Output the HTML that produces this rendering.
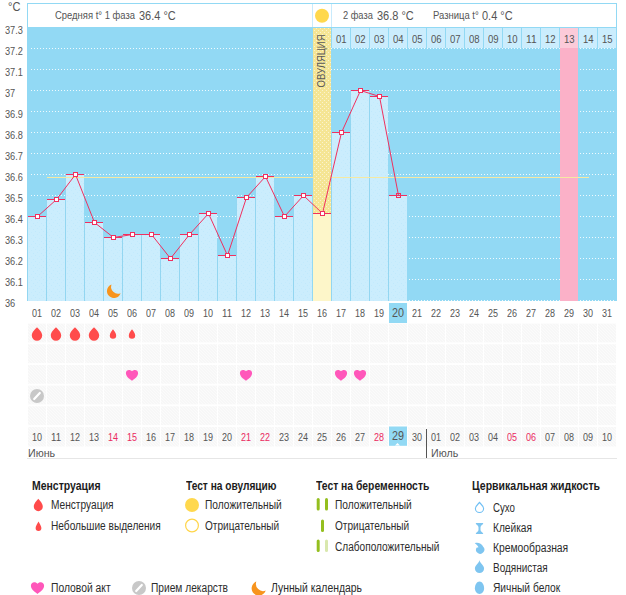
<!DOCTYPE html>
<html><head><meta charset="utf-8"><title>chart</title>
<style>
html,body{margin:0;padding:0;background:#fff;}
body{width:626px;height:595px;position:relative;overflow:hidden;font-family:"Liberation Sans",sans-serif;}
.g{position:absolute;left:0;top:0;}
.t{position:absolute;white-space:nowrap;transform-origin:0 50%;font-family:"Liberation Sans",sans-serif;}
</style></head><body>
<svg class="g" width="626" height="595" viewBox="0 0 626 595">
<defs>
<pattern id="dots" width="4" height="4" patternUnits="userSpaceOnUse"><rect x="0" y="0" width="1" height="1" fill="#fff" fill-opacity=".55"/><rect x="2" y="2" width="1" height="1" fill="#fff" fill-opacity=".55"/></pattern>
<pattern id="cell" width="3" height="3" patternUnits="userSpaceOnUse"><rect width="3" height="3" fill="#f7f7f7"/><rect x="0" y="0" width="1" height="1" fill="#fbfbfb"/><rect x="1" y="1" width="1" height="1" fill="#fbfbfb"/><rect x="2" y="2" width="1" height="1" fill="#fbfbfb"/></pattern>
<pattern id="bdots" width="8" height="6" patternUnits="userSpaceOnUse"><rect x="1" y="1" width="1" height="1" fill="#b4e4fa" fill-opacity=".45"/><rect x="5" y="0" width="1" height="1" fill="#b4e4fa" fill-opacity=".35"/><rect x="3" y="3" width="1" height="1" fill="#b4e4fa" fill-opacity=".45"/><rect x="7" y="4" width="1" height="1" fill="#b4e4fa" fill-opacity=".35"/></pattern>
</defs>
<rect x="27" y="27" width="590" height="274" fill="#92d9f4"/>
<line x1="31" y1="48.5" x2="616" y2="48.5" stroke="#fff" stroke-width="1" stroke-dasharray="1 2" stroke-opacity=".85"/>
<line x1="31" y1="69.5" x2="616" y2="69.5" stroke="#fff" stroke-width="1" stroke-dasharray="1 2" stroke-opacity=".85"/>
<line x1="31" y1="90.5" x2="616" y2="90.5" stroke="#fff" stroke-width="1" stroke-dasharray="1 2" stroke-opacity=".85"/>
<line x1="31" y1="111.5" x2="616" y2="111.5" stroke="#fff" stroke-width="1" stroke-dasharray="1 2" stroke-opacity=".85"/>
<line x1="31" y1="132.5" x2="616" y2="132.5" stroke="#fff" stroke-width="1" stroke-dasharray="1 2" stroke-opacity=".85"/>
<line x1="31" y1="153.5" x2="616" y2="153.5" stroke="#fff" stroke-width="1" stroke-dasharray="1 2" stroke-opacity=".85"/>
<line x1="31" y1="174.5" x2="616" y2="174.5" stroke="#fff" stroke-width="1" stroke-dasharray="1 2" stroke-opacity=".85"/>
<line x1="31" y1="195.5" x2="616" y2="195.5" stroke="#fff" stroke-width="1" stroke-dasharray="1 2" stroke-opacity=".85"/>
<line x1="31" y1="216.5" x2="616" y2="216.5" stroke="#fff" stroke-width="1" stroke-dasharray="1 2" stroke-opacity=".85"/>
<line x1="31" y1="237.5" x2="616" y2="237.5" stroke="#fff" stroke-width="1" stroke-dasharray="1 2" stroke-opacity=".85"/>
<line x1="31" y1="258.5" x2="616" y2="258.5" stroke="#fff" stroke-width="1" stroke-dasharray="1 2" stroke-opacity=".85"/>
<line x1="31" y1="279.5" x2="616" y2="279.5" stroke="#fff" stroke-width="1" stroke-dasharray="1 2" stroke-opacity=".85"/>
<line x1="31" y1="300.5" x2="616" y2="300.5" stroke="#fff" stroke-width="1" stroke-dasharray="1 2" stroke-opacity=".85"/>
<rect x="560" y="27" width="18" height="274" fill="#fbb1c8"/>
<rect x="27" y="216" width="1" height="85" fill="#93d6f1"/>
<rect x="28" y="216" width="18" height="85" fill="#cbedfd"/>
<rect x="28" y="216" width="18" height="85" fill="url(#bdots)"/>
<rect x="46" y="199" width="1" height="102" fill="#93d6f1"/>
<rect x="47" y="199" width="18" height="102" fill="#cbedfd"/>
<rect x="47" y="199" width="18" height="102" fill="url(#bdots)"/>
<rect x="65" y="174" width="1" height="127" fill="#93d6f1"/>
<rect x="66" y="174" width="18" height="127" fill="#cbedfd"/>
<rect x="66" y="174" width="18" height="127" fill="url(#bdots)"/>
<rect x="84" y="222" width="1" height="79" fill="#93d6f1"/>
<rect x="85" y="222" width="18" height="79" fill="#cbedfd"/>
<rect x="85" y="222" width="18" height="79" fill="url(#bdots)"/>
<rect x="103" y="237" width="1" height="64" fill="#93d6f1"/>
<rect x="104" y="237" width="18" height="64" fill="#cbedfd"/>
<rect x="104" y="237" width="18" height="64" fill="url(#bdots)"/>
<rect x="122" y="234" width="1" height="67" fill="#93d6f1"/>
<rect x="123" y="234" width="18" height="67" fill="#cbedfd"/>
<rect x="123" y="234" width="18" height="67" fill="url(#bdots)"/>
<rect x="141" y="234" width="1" height="67" fill="#93d6f1"/>
<rect x="142" y="234" width="18" height="67" fill="#cbedfd"/>
<rect x="142" y="234" width="18" height="67" fill="url(#bdots)"/>
<rect x="160" y="258" width="1" height="43" fill="#93d6f1"/>
<rect x="161" y="258" width="18" height="43" fill="#cbedfd"/>
<rect x="161" y="258" width="18" height="43" fill="url(#bdots)"/>
<rect x="179" y="234" width="1" height="67" fill="#93d6f1"/>
<rect x="180" y="234" width="18" height="67" fill="#cbedfd"/>
<rect x="180" y="234" width="18" height="67" fill="url(#bdots)"/>
<rect x="198" y="213" width="1" height="88" fill="#93d6f1"/>
<rect x="199" y="213" width="18" height="88" fill="#cbedfd"/>
<rect x="199" y="213" width="18" height="88" fill="url(#bdots)"/>
<rect x="217" y="255" width="1" height="46" fill="#93d6f1"/>
<rect x="218" y="255" width="18" height="46" fill="#cbedfd"/>
<rect x="218" y="255" width="18" height="46" fill="url(#bdots)"/>
<rect x="236" y="197" width="1" height="104" fill="#93d6f1"/>
<rect x="237" y="197" width="18" height="104" fill="#cbedfd"/>
<rect x="237" y="197" width="18" height="104" fill="url(#bdots)"/>
<rect x="255" y="176" width="1" height="125" fill="#93d6f1"/>
<rect x="256" y="176" width="18" height="125" fill="#cbedfd"/>
<rect x="256" y="176" width="18" height="125" fill="url(#bdots)"/>
<rect x="274" y="216" width="1" height="85" fill="#93d6f1"/>
<rect x="275" y="216" width="18" height="85" fill="#cbedfd"/>
<rect x="275" y="216" width="18" height="85" fill="url(#bdots)"/>
<rect x="293" y="195" width="1" height="106" fill="#93d6f1"/>
<rect x="294" y="195" width="18" height="106" fill="#cbedfd"/>
<rect x="294" y="195" width="18" height="106" fill="url(#bdots)"/>
<rect x="331" y="132" width="1" height="169" fill="#93d6f1"/>
<rect x="332" y="132" width="18" height="169" fill="#cbedfd"/>
<rect x="332" y="132" width="18" height="169" fill="url(#bdots)"/>
<rect x="350" y="90" width="1" height="211" fill="#93d6f1"/>
<rect x="351" y="90" width="18" height="211" fill="#cbedfd"/>
<rect x="351" y="90" width="18" height="211" fill="url(#bdots)"/>
<rect x="369" y="96" width="1" height="205" fill="#93d6f1"/>
<rect x="370" y="96" width="18" height="205" fill="#cbedfd"/>
<rect x="370" y="96" width="18" height="205" fill="url(#bdots)"/>
<rect x="388" y="195" width="1" height="106" fill="#93d6f1"/>
<rect x="389" y="195" width="18" height="106" fill="#cbedfd"/>
<rect x="389" y="195" width="18" height="106" fill="url(#bdots)"/>
<rect x="332" y="28" width="18" height="20" fill="#cbedfd"/>
<rect x="351" y="28" width="18" height="20" fill="#cbedfd"/>
<rect x="370" y="28" width="18" height="20" fill="#cbedfd"/>
<rect x="389" y="28" width="18" height="20" fill="#cbedfd"/>
<rect x="408" y="28" width="18" height="20" fill="#cbedfd"/>
<rect x="427" y="28" width="18" height="20" fill="#cbedfd"/>
<rect x="446" y="28" width="18" height="20" fill="#cbedfd"/>
<rect x="465" y="28" width="18" height="20" fill="#cbedfd"/>
<rect x="484" y="28" width="18" height="20" fill="#cbedfd"/>
<rect x="503" y="28" width="18" height="20" fill="#cbedfd"/>
<rect x="522" y="28" width="18" height="20" fill="#cbedfd"/>
<rect x="541" y="28" width="18" height="20" fill="#cbedfd"/>
<rect x="560" y="28" width="18" height="20" fill="#fccbd9"/>
<rect x="579" y="28" width="18" height="20" fill="#cbedfd"/>
<rect x="598" y="28" width="18" height="20" fill="#cbedfd"/>
<rect x="47" y="177" width="542" height="1" fill="#f6e9a2"/>
<rect x="313" y="27" width="18" height="274" fill="#f5e594"/>
<rect x="313" y="27" width="18" height="274" fill="url(#dots)"/>
<rect x="313" y="213" width="18" height="88" fill="#fdf6c9"/>
<rect x="27.5" y="3.5" width="589" height="24" fill="#fff" stroke="#92d9f4" stroke-width="1"/>
<rect x="312" y="4" width="1" height="23" fill="#c9ebfc"/><rect x="331" y="4" width="1" height="23" fill="#c9ebfc"/>
<circle cx="322" cy="15.8" r="7" fill="#ffd84d"/>
<rect x="28" y="216" width="18" height="1" fill="#f0305f"/>
<rect x="47" y="199" width="18" height="1" fill="#f0305f"/>
<rect x="66" y="174" width="18" height="1" fill="#f0305f"/>
<rect x="85" y="222" width="18" height="1" fill="#f0305f"/>
<rect x="104" y="237" width="18" height="1" fill="#f0305f"/>
<rect x="123" y="234" width="18" height="1" fill="#f0305f"/>
<rect x="142" y="234" width="18" height="1" fill="#f0305f"/>
<rect x="161" y="258" width="18" height="1" fill="#f0305f"/>
<rect x="180" y="234" width="18" height="1" fill="#f0305f"/>
<rect x="199" y="213" width="18" height="1" fill="#f0305f"/>
<rect x="218" y="255" width="18" height="1" fill="#f0305f"/>
<rect x="237" y="197" width="18" height="1" fill="#f0305f"/>
<rect x="256" y="176" width="18" height="1" fill="#f0305f"/>
<rect x="275" y="216" width="18" height="1" fill="#f0305f"/>
<rect x="294" y="195" width="18" height="1" fill="#f0305f"/>
<rect x="313" y="213" width="18" height="1" fill="#f0305f"/>
<rect x="332" y="132" width="18" height="1" fill="#f0305f"/>
<rect x="351" y="90" width="18" height="1" fill="#f0305f"/>
<rect x="370" y="96" width="18" height="1" fill="#f0305f"/>
<rect x="389" y="195" width="18" height="1" fill="#f0305f"/>
<polyline fill="none" stroke="#f0305f" stroke-width="1" points="37.5,216.5 56.5,199.5 75.5,174.5 94.5,222.5 113.5,237.5 132.5,234.5 151.5,234.5 170.5,258.5 189.5,234.5 208.5,213.5 227.5,255.5 246.5,197.5 265.5,176.5 284.5,216.5 303.5,195.5 322.5,213.5 341.5,132.5 360.5,90.5 379.5,96.5 398.5,195.5"/>
<rect x="35.5" y="214.5" width="4" height="4" fill="#fff" stroke="#f0305f" stroke-width="1"/>
<rect x="54.5" y="197.5" width="4" height="4" fill="#fff" stroke="#f0305f" stroke-width="1"/>
<rect x="73.5" y="172.5" width="4" height="4" fill="#fff" stroke="#f0305f" stroke-width="1"/>
<rect x="92.5" y="220.5" width="4" height="4" fill="#fff" stroke="#f0305f" stroke-width="1"/>
<rect x="111.5" y="235.5" width="4" height="4" fill="#fff" stroke="#f0305f" stroke-width="1"/>
<rect x="130.5" y="232.5" width="4" height="4" fill="#fff" stroke="#f0305f" stroke-width="1"/>
<rect x="149.5" y="232.5" width="4" height="4" fill="#fff" stroke="#f0305f" stroke-width="1"/>
<rect x="168.5" y="256.5" width="4" height="4" fill="#fff" stroke="#f0305f" stroke-width="1"/>
<rect x="187.5" y="232.5" width="4" height="4" fill="#fff" stroke="#f0305f" stroke-width="1"/>
<rect x="206.5" y="211.5" width="4" height="4" fill="#fff" stroke="#f0305f" stroke-width="1"/>
<rect x="225.5" y="253.5" width="4" height="4" fill="#fff" stroke="#f0305f" stroke-width="1"/>
<rect x="244.5" y="195.5" width="4" height="4" fill="#fff" stroke="#f0305f" stroke-width="1"/>
<rect x="263.5" y="174.5" width="4" height="4" fill="#fff" stroke="#f0305f" stroke-width="1"/>
<rect x="282.5" y="214.5" width="4" height="4" fill="#fff" stroke="#f0305f" stroke-width="1"/>
<rect x="301.5" y="193.5" width="4" height="4" fill="#fff" stroke="#f0305f" stroke-width="1"/>
<rect x="320.5" y="211.5" width="4" height="4" fill="#fff" stroke="#f0305f" stroke-width="1"/>
<rect x="339.5" y="130.5" width="4" height="4" fill="#fff" stroke="#f0305f" stroke-width="1"/>
<rect x="358.5" y="88.5" width="4" height="4" fill="#fff" stroke="#f0305f" stroke-width="1"/>
<rect x="377.5" y="94.5" width="4" height="4" fill="#fff" stroke="#f0305f" stroke-width="1"/>
<rect x="396.5" y="193.5" width="4" height="4" fill="none" stroke="#f0305f" stroke-width="1"/>
<g transform="translate(113.9,291.1) scale(1.0)"><path d="M-2.4,-6.6 A7,7 0 1,0 6.7,2.1 A6.95,6.95 0 0,1 -2.4,-6.6 Z" fill="#f7941d"/></g>
<rect x="389" y="303" width="18" height="20" fill="#92d9f4"/>
<rect x="389" y="426.5" width="18" height="19.3" fill="#92d9f4"/>
<path d="M395,445.5 l2.5,-2.5 l2.5,2.5 z" fill="#fff"/>
<rect x="28" y="323.6" width="18" height="18.8" fill="url(#cell)"/>
<rect x="47" y="323.6" width="18" height="18.8" fill="url(#cell)"/>
<rect x="66" y="323.6" width="18" height="18.8" fill="url(#cell)"/>
<rect x="85" y="323.6" width="18" height="18.8" fill="url(#cell)"/>
<rect x="104" y="323.6" width="18" height="18.8" fill="url(#cell)"/>
<rect x="123" y="323.6" width="18" height="18.8" fill="url(#cell)"/>
<rect x="142" y="323.6" width="18" height="18.8" fill="url(#cell)"/>
<rect x="161" y="323.6" width="18" height="18.8" fill="url(#cell)"/>
<rect x="180" y="323.6" width="18" height="18.8" fill="url(#cell)"/>
<rect x="199" y="323.6" width="18" height="18.8" fill="url(#cell)"/>
<rect x="218" y="323.6" width="18" height="18.8" fill="url(#cell)"/>
<rect x="237" y="323.6" width="18" height="18.8" fill="url(#cell)"/>
<rect x="256" y="323.6" width="18" height="18.8" fill="url(#cell)"/>
<rect x="275" y="323.6" width="18" height="18.8" fill="url(#cell)"/>
<rect x="294" y="323.6" width="18" height="18.8" fill="url(#cell)"/>
<rect x="313" y="323.6" width="18" height="18.8" fill="url(#cell)"/>
<rect x="332" y="323.6" width="18" height="18.8" fill="url(#cell)"/>
<rect x="351" y="323.6" width="18" height="18.8" fill="url(#cell)"/>
<rect x="370" y="323.6" width="18" height="18.8" fill="url(#cell)"/>
<rect x="389" y="323.6" width="18" height="18.8" fill="url(#cell)"/>
<rect x="408" y="323.6" width="18" height="18.8" fill="url(#cell)"/>
<rect x="427" y="323.6" width="18" height="18.8" fill="url(#cell)"/>
<rect x="446" y="323.6" width="18" height="18.8" fill="url(#cell)"/>
<rect x="465" y="323.6" width="18" height="18.8" fill="url(#cell)"/>
<rect x="484" y="323.6" width="18" height="18.8" fill="url(#cell)"/>
<rect x="503" y="323.6" width="18" height="18.8" fill="url(#cell)"/>
<rect x="522" y="323.6" width="18" height="18.8" fill="url(#cell)"/>
<rect x="541" y="323.6" width="18" height="18.8" fill="url(#cell)"/>
<rect x="560" y="323.6" width="18" height="18.8" fill="url(#cell)"/>
<rect x="579" y="323.6" width="18" height="18.8" fill="url(#cell)"/>
<rect x="598" y="323.6" width="18" height="18.8" fill="url(#cell)"/>
<rect x="28" y="344.3" width="18" height="18.8" fill="url(#cell)"/>
<rect x="47" y="344.3" width="18" height="18.8" fill="url(#cell)"/>
<rect x="66" y="344.3" width="18" height="18.8" fill="url(#cell)"/>
<rect x="85" y="344.3" width="18" height="18.8" fill="url(#cell)"/>
<rect x="104" y="344.3" width="18" height="18.8" fill="url(#cell)"/>
<rect x="123" y="344.3" width="18" height="18.8" fill="url(#cell)"/>
<rect x="142" y="344.3" width="18" height="18.8" fill="url(#cell)"/>
<rect x="161" y="344.3" width="18" height="18.8" fill="url(#cell)"/>
<rect x="180" y="344.3" width="18" height="18.8" fill="url(#cell)"/>
<rect x="199" y="344.3" width="18" height="18.8" fill="url(#cell)"/>
<rect x="218" y="344.3" width="18" height="18.8" fill="url(#cell)"/>
<rect x="237" y="344.3" width="18" height="18.8" fill="url(#cell)"/>
<rect x="256" y="344.3" width="18" height="18.8" fill="url(#cell)"/>
<rect x="275" y="344.3" width="18" height="18.8" fill="url(#cell)"/>
<rect x="294" y="344.3" width="18" height="18.8" fill="url(#cell)"/>
<rect x="313" y="344.3" width="18" height="18.8" fill="url(#cell)"/>
<rect x="332" y="344.3" width="18" height="18.8" fill="url(#cell)"/>
<rect x="351" y="344.3" width="18" height="18.8" fill="url(#cell)"/>
<rect x="370" y="344.3" width="18" height="18.8" fill="url(#cell)"/>
<rect x="389" y="344.3" width="18" height="18.8" fill="url(#cell)"/>
<rect x="408" y="344.3" width="18" height="18.8" fill="url(#cell)"/>
<rect x="427" y="344.3" width="18" height="18.8" fill="url(#cell)"/>
<rect x="446" y="344.3" width="18" height="18.8" fill="url(#cell)"/>
<rect x="465" y="344.3" width="18" height="18.8" fill="url(#cell)"/>
<rect x="484" y="344.3" width="18" height="18.8" fill="url(#cell)"/>
<rect x="503" y="344.3" width="18" height="18.8" fill="url(#cell)"/>
<rect x="522" y="344.3" width="18" height="18.8" fill="url(#cell)"/>
<rect x="541" y="344.3" width="18" height="18.8" fill="url(#cell)"/>
<rect x="560" y="344.3" width="18" height="18.8" fill="url(#cell)"/>
<rect x="579" y="344.3" width="18" height="18.8" fill="url(#cell)"/>
<rect x="598" y="344.3" width="18" height="18.8" fill="url(#cell)"/>
<rect x="28" y="365" width="18" height="18.8" fill="url(#cell)"/>
<rect x="47" y="365" width="18" height="18.8" fill="url(#cell)"/>
<rect x="66" y="365" width="18" height="18.8" fill="url(#cell)"/>
<rect x="85" y="365" width="18" height="18.8" fill="url(#cell)"/>
<rect x="104" y="365" width="18" height="18.8" fill="url(#cell)"/>
<rect x="123" y="365" width="18" height="18.8" fill="url(#cell)"/>
<rect x="142" y="365" width="18" height="18.8" fill="url(#cell)"/>
<rect x="161" y="365" width="18" height="18.8" fill="url(#cell)"/>
<rect x="180" y="365" width="18" height="18.8" fill="url(#cell)"/>
<rect x="199" y="365" width="18" height="18.8" fill="url(#cell)"/>
<rect x="218" y="365" width="18" height="18.8" fill="url(#cell)"/>
<rect x="237" y="365" width="18" height="18.8" fill="url(#cell)"/>
<rect x="256" y="365" width="18" height="18.8" fill="url(#cell)"/>
<rect x="275" y="365" width="18" height="18.8" fill="url(#cell)"/>
<rect x="294" y="365" width="18" height="18.8" fill="url(#cell)"/>
<rect x="313" y="365" width="18" height="18.8" fill="url(#cell)"/>
<rect x="332" y="365" width="18" height="18.8" fill="url(#cell)"/>
<rect x="351" y="365" width="18" height="18.8" fill="url(#cell)"/>
<rect x="370" y="365" width="18" height="18.8" fill="url(#cell)"/>
<rect x="389" y="365" width="18" height="18.8" fill="url(#cell)"/>
<rect x="408" y="365" width="18" height="18.8" fill="url(#cell)"/>
<rect x="427" y="365" width="18" height="18.8" fill="url(#cell)"/>
<rect x="446" y="365" width="18" height="18.8" fill="url(#cell)"/>
<rect x="465" y="365" width="18" height="18.8" fill="url(#cell)"/>
<rect x="484" y="365" width="18" height="18.8" fill="url(#cell)"/>
<rect x="503" y="365" width="18" height="18.8" fill="url(#cell)"/>
<rect x="522" y="365" width="18" height="18.8" fill="url(#cell)"/>
<rect x="541" y="365" width="18" height="18.8" fill="url(#cell)"/>
<rect x="560" y="365" width="18" height="18.8" fill="url(#cell)"/>
<rect x="579" y="365" width="18" height="18.8" fill="url(#cell)"/>
<rect x="598" y="365" width="18" height="18.8" fill="url(#cell)"/>
<rect x="28" y="385.6" width="18" height="18.8" fill="url(#cell)"/>
<rect x="47" y="385.6" width="18" height="18.8" fill="url(#cell)"/>
<rect x="66" y="385.6" width="18" height="18.8" fill="url(#cell)"/>
<rect x="85" y="385.6" width="18" height="18.8" fill="url(#cell)"/>
<rect x="104" y="385.6" width="18" height="18.8" fill="url(#cell)"/>
<rect x="123" y="385.6" width="18" height="18.8" fill="url(#cell)"/>
<rect x="142" y="385.6" width="18" height="18.8" fill="url(#cell)"/>
<rect x="161" y="385.6" width="18" height="18.8" fill="url(#cell)"/>
<rect x="180" y="385.6" width="18" height="18.8" fill="url(#cell)"/>
<rect x="199" y="385.6" width="18" height="18.8" fill="url(#cell)"/>
<rect x="218" y="385.6" width="18" height="18.8" fill="url(#cell)"/>
<rect x="237" y="385.6" width="18" height="18.8" fill="url(#cell)"/>
<rect x="256" y="385.6" width="18" height="18.8" fill="url(#cell)"/>
<rect x="275" y="385.6" width="18" height="18.8" fill="url(#cell)"/>
<rect x="294" y="385.6" width="18" height="18.8" fill="url(#cell)"/>
<rect x="313" y="385.6" width="18" height="18.8" fill="url(#cell)"/>
<rect x="332" y="385.6" width="18" height="18.8" fill="url(#cell)"/>
<rect x="351" y="385.6" width="18" height="18.8" fill="url(#cell)"/>
<rect x="370" y="385.6" width="18" height="18.8" fill="url(#cell)"/>
<rect x="389" y="385.6" width="18" height="18.8" fill="url(#cell)"/>
<rect x="408" y="385.6" width="18" height="18.8" fill="url(#cell)"/>
<rect x="427" y="385.6" width="18" height="18.8" fill="url(#cell)"/>
<rect x="446" y="385.6" width="18" height="18.8" fill="url(#cell)"/>
<rect x="465" y="385.6" width="18" height="18.8" fill="url(#cell)"/>
<rect x="484" y="385.6" width="18" height="18.8" fill="url(#cell)"/>
<rect x="503" y="385.6" width="18" height="18.8" fill="url(#cell)"/>
<rect x="522" y="385.6" width="18" height="18.8" fill="url(#cell)"/>
<rect x="541" y="385.6" width="18" height="18.8" fill="url(#cell)"/>
<rect x="560" y="385.6" width="18" height="18.8" fill="url(#cell)"/>
<rect x="579" y="385.6" width="18" height="18.8" fill="url(#cell)"/>
<rect x="598" y="385.6" width="18" height="18.8" fill="url(#cell)"/>
<rect x="28" y="406.3" width="18" height="18.8" fill="url(#cell)"/>
<rect x="47" y="406.3" width="18" height="18.8" fill="url(#cell)"/>
<rect x="66" y="406.3" width="18" height="18.8" fill="url(#cell)"/>
<rect x="85" y="406.3" width="18" height="18.8" fill="url(#cell)"/>
<rect x="104" y="406.3" width="18" height="18.8" fill="url(#cell)"/>
<rect x="123" y="406.3" width="18" height="18.8" fill="url(#cell)"/>
<rect x="142" y="406.3" width="18" height="18.8" fill="url(#cell)"/>
<rect x="161" y="406.3" width="18" height="18.8" fill="url(#cell)"/>
<rect x="180" y="406.3" width="18" height="18.8" fill="url(#cell)"/>
<rect x="199" y="406.3" width="18" height="18.8" fill="url(#cell)"/>
<rect x="218" y="406.3" width="18" height="18.8" fill="url(#cell)"/>
<rect x="237" y="406.3" width="18" height="18.8" fill="url(#cell)"/>
<rect x="256" y="406.3" width="18" height="18.8" fill="url(#cell)"/>
<rect x="275" y="406.3" width="18" height="18.8" fill="url(#cell)"/>
<rect x="294" y="406.3" width="18" height="18.8" fill="url(#cell)"/>
<rect x="313" y="406.3" width="18" height="18.8" fill="url(#cell)"/>
<rect x="332" y="406.3" width="18" height="18.8" fill="url(#cell)"/>
<rect x="351" y="406.3" width="18" height="18.8" fill="url(#cell)"/>
<rect x="370" y="406.3" width="18" height="18.8" fill="url(#cell)"/>
<rect x="389" y="406.3" width="18" height="18.8" fill="url(#cell)"/>
<rect x="408" y="406.3" width="18" height="18.8" fill="url(#cell)"/>
<rect x="427" y="406.3" width="18" height="18.8" fill="url(#cell)"/>
<rect x="446" y="406.3" width="18" height="18.8" fill="url(#cell)"/>
<rect x="465" y="406.3" width="18" height="18.8" fill="url(#cell)"/>
<rect x="484" y="406.3" width="18" height="18.8" fill="url(#cell)"/>
<rect x="503" y="406.3" width="18" height="18.8" fill="url(#cell)"/>
<rect x="522" y="406.3" width="18" height="18.8" fill="url(#cell)"/>
<rect x="541" y="406.3" width="18" height="18.8" fill="url(#cell)"/>
<rect x="560" y="406.3" width="18" height="18.8" fill="url(#cell)"/>
<rect x="579" y="406.3" width="18" height="18.8" fill="url(#cell)"/>
<rect x="598" y="406.3" width="18" height="18.8" fill="url(#cell)"/>
<rect x="28" y="427" width="18" height="19.5" fill="url(#cell)"/>
<rect x="47" y="427" width="18" height="19.5" fill="url(#cell)"/>
<rect x="66" y="427" width="18" height="19.5" fill="url(#cell)"/>
<rect x="85" y="427" width="18" height="19.5" fill="url(#cell)"/>
<rect x="104" y="427" width="18" height="19.5" fill="url(#cell)"/>
<rect x="123" y="427" width="18" height="19.5" fill="url(#cell)"/>
<rect x="142" y="427" width="18" height="19.5" fill="url(#cell)"/>
<rect x="161" y="427" width="18" height="19.5" fill="url(#cell)"/>
<rect x="180" y="427" width="18" height="19.5" fill="url(#cell)"/>
<rect x="199" y="427" width="18" height="19.5" fill="url(#cell)"/>
<rect x="218" y="427" width="18" height="19.5" fill="url(#cell)"/>
<rect x="237" y="427" width="18" height="19.5" fill="url(#cell)"/>
<rect x="256" y="427" width="18" height="19.5" fill="url(#cell)"/>
<rect x="275" y="427" width="18" height="19.5" fill="url(#cell)"/>
<rect x="294" y="427" width="18" height="19.5" fill="url(#cell)"/>
<rect x="313" y="427" width="18" height="19.5" fill="url(#cell)"/>
<rect x="332" y="427" width="18" height="19.5" fill="url(#cell)"/>
<rect x="351" y="427" width="18" height="19.5" fill="url(#cell)"/>
<rect x="370" y="427" width="18" height="19.5" fill="url(#cell)"/>
<rect x="408" y="427" width="18" height="19.5" fill="url(#cell)"/>
<rect x="427" y="427" width="18" height="19.5" fill="url(#cell)"/>
<rect x="446" y="427" width="18" height="19.5" fill="url(#cell)"/>
<rect x="465" y="427" width="18" height="19.5" fill="url(#cell)"/>
<rect x="484" y="427" width="18" height="19.5" fill="url(#cell)"/>
<rect x="503" y="427" width="18" height="19.5" fill="url(#cell)"/>
<rect x="522" y="427" width="18" height="19.5" fill="url(#cell)"/>
<rect x="541" y="427" width="18" height="19.5" fill="url(#cell)"/>
<rect x="560" y="427" width="18" height="19.5" fill="url(#cell)"/>
<rect x="579" y="427" width="18" height="19.5" fill="url(#cell)"/>
<rect x="598" y="427" width="18" height="19.5" fill="url(#cell)"/>
<path d="M37,327.25 C38.66,328.95 42.20,331.81 42.20,335.55 A5.2,5.2 0 1,1 31.80,335.55 C31.80,331.81 35.34,328.95 37,327.25 Z" fill="#ff4b4b"/>
<path d="M56,327.25 C57.66,328.95 61.20,331.81 61.20,335.55 A5.2,5.2 0 1,1 50.80,335.55 C50.80,331.81 54.34,328.95 56,327.25 Z" fill="#ff4b4b"/>
<path d="M75,327.25 C76.66,328.95 80.20,331.81 80.20,335.55 A5.2,5.2 0 1,1 69.80,335.55 C69.80,331.81 73.34,328.95 75,327.25 Z" fill="#ff4b4b"/>
<path d="M94,327.25 C95.66,328.95 99.20,331.81 99.20,335.55 A5.2,5.2 0 1,1 88.80,335.55 C88.80,331.81 92.34,328.95 94,327.25 Z" fill="#ff4b4b"/>
<path d="M113,329.30 C114.02,330.95 116.20,333.20 116.20,335.50 A3.2,3.2 0 1,1 109.80,335.50 C109.80,333.20 111.98,330.95 113,329.30 Z" fill="#ff4b4b"/>
<path d="M132,329.30 C133.02,330.95 135.20,333.20 135.20,335.50 A3.2,3.2 0 1,1 128.80,335.50 C128.80,333.20 130.98,330.95 132,329.30 Z" fill="#ff4b4b"/>
<g transform="translate(132,375.3) scale(0.92)"><path d="M0,5.9 C-1.8,4.3 -6.6,1.8 -6.6,-2.3 C-6.6,-4.6 -5,-5.8 -3.3,-5.8 C-1.8,-5.8 -0.6,-5.2 0,-4.3 C0.6,-5.2 1.8,-5.8 3.3,-5.8 C5,-5.8 6.6,-4.6 6.6,-2.3 C6.6,1.8 1.8,4.3 0,5.9 Z" fill="#ff57ba"/></g>
<g transform="translate(246,375.3) scale(0.92)"><path d="M0,5.9 C-1.8,4.3 -6.6,1.8 -6.6,-2.3 C-6.6,-4.6 -5,-5.8 -3.3,-5.8 C-1.8,-5.8 -0.6,-5.2 0,-4.3 C0.6,-5.2 1.8,-5.8 3.3,-5.8 C5,-5.8 6.6,-4.6 6.6,-2.3 C6.6,1.8 1.8,4.3 0,5.9 Z" fill="#ff57ba"/></g>
<g transform="translate(341,375.3) scale(0.92)"><path d="M0,5.9 C-1.8,4.3 -6.6,1.8 -6.6,-2.3 C-6.6,-4.6 -5,-5.8 -3.3,-5.8 C-1.8,-5.8 -0.6,-5.2 0,-4.3 C0.6,-5.2 1.8,-5.8 3.3,-5.8 C5,-5.8 6.6,-4.6 6.6,-2.3 C6.6,1.8 1.8,4.3 0,5.9 Z" fill="#ff57ba"/></g>
<g transform="translate(360,375.3) scale(0.92)"><path d="M0,5.9 C-1.8,4.3 -6.6,1.8 -6.6,-2.3 C-6.6,-4.6 -5,-5.8 -3.3,-5.8 C-1.8,-5.8 -0.6,-5.2 0,-4.3 C0.6,-5.2 1.8,-5.8 3.3,-5.8 C5,-5.8 6.6,-4.6 6.6,-2.3 C6.6,1.8 1.8,4.3 0,5.9 Z" fill="#ff57ba"/></g>
<g transform="translate(37,396)"><circle r="7" fill="#c8c8c8"/><line x1="-2.8" y1="3" x2="2.8" y2="-3" stroke="#fff" stroke-width="2.2" stroke-linecap="round"/></g>
<rect x="426" y="429" width="1" height="29" fill="#555"/>
<rect x="27" y="458" width="590" height="1" fill="#e6e6e6"/>
<path d="M38.3,498.85 C39.74,500.67 42.80,503.41 42.80,506.65 A4.5,4.5 0 1,1 33.80,506.65 C33.80,503.41 36.86,500.67 38.3,498.85 Z" fill="#ff4b4b"/>
<path d="M38.5,521.60 C39.43,523.58 41.40,526.01 41.40,528.10 A2.9,2.9 0 1,1 35.60,528.10 C35.60,526.01 37.57,523.58 38.5,521.60 Z" fill="#ff4b4b"/>
<g transform="translate(37.5,588) scale(1.0)"><path d="M0,5.9 C-1.8,4.3 -6.6,1.8 -6.6,-2.3 C-6.6,-4.6 -5,-5.8 -3.3,-5.8 C-1.8,-5.8 -0.6,-5.2 0,-4.3 C0.6,-5.2 1.8,-5.8 3.3,-5.8 C5,-5.8 6.6,-4.6 6.6,-2.3 C6.6,1.8 1.8,4.3 0,5.9 Z" fill="#ff57ba"/></g>
<g transform="translate(139,588)"><circle r="7" fill="#c8c8c8"/><line x1="-2.8" y1="3" x2="2.8" y2="-3" stroke="#fff" stroke-width="2.2" stroke-linecap="round"/></g>
<g transform="translate(258.8,588.4) scale(1.03)"><path d="M-2.4,-6.6 A7,7 0 1,0 6.7,2.1 A6.95,6.95 0 0,1 -2.4,-6.6 Z" fill="#f7941d"/></g>
<circle cx="192" cy="505" r="7" fill="#ffd84d"/>
<circle cx="192" cy="525.5" r="6.4" fill="#fff" stroke="#ffd54a" stroke-width="1.2"/>
<rect x="316.7" y="498" width="3" height="12.5" rx="1.5" fill="#94bf1f"/>
<rect x="325" y="498" width="3" height="12.5" rx="1.5" fill="#94bf1f"/>
<rect x="321" y="519.5" width="3" height="12.5" rx="1.5" fill="#94bf1f"/>
<rect x="316.7" y="539.5" width="3" height="12.5" rx="1.5" fill="#94bf1f"/>
<rect x="325" y="539.5" width="3" height="12.5" rx="1.5" fill="#d9e8ae"/>
<path d="M479.5,502.4 C480.6,504 483.6,506 483.6,508.4 A4.1,4.1 0 1,1 475.4,508.4 C475.4,506 478.4,504 479.5,502.4 Z" fill="#fff" stroke="#6fbff4" stroke-width="1.1"/>
<path d="M475.7,523.1 h7.6 C483.3,524.9 480.5,525.4 480.5,527.2 V529.9 C480.5,531.7 483.3,532.2 483.3,534 h-7.6 C475.7,532.2 478.5,531.7 478.5,529.9 V527.2 C478.5,525.4 475.7,524.9 475.7,523.1 Z" fill="#7ec5f0"/>
<path d="M474.7,543.2 C477.5,542.3 481.6,543 483.2,546.8 A4.15,4.15 0 1,1 476.5,547.7 L478.5,547.2 C477.6,545.6 476.4,544.2 474.7,543.2 Z" fill="#7ec5f0"/>
<path d="M479.5,559.9 C479.9,563.2 484.1,565 484.1,568.4 A4.6,4.6 0 1,1 474.9,568.4 C474.9,565 479.1,563.2 479.5,559.9 Z" fill="#7ec5f0"/>
<path d="M479.5,581.5 C482.3,581.5 484.1,585 484.1,588.3 C484.1,591.6 482,593.9 479.5,593.9 C477,593.9 474.9,591.6 474.9,588.3 C474.9,585 476.7,581.5 479.5,581.5 Z" fill="#7ec5f0"/>
</svg>
<span class="t" style="left:8.40px;top:-1.00px;font-size:12px;line-height:16px;color:#555;transform:scaleX(0.9209);">°C</span>
<span class="t" style="left:4.60px;top:23.80px;font-size:10px;line-height:14px;color:#555;transform:scaleX(0.9200);">37.3</span>
<span class="t" style="left:4.60px;top:44.80px;font-size:10px;line-height:14px;color:#555;transform:scaleX(0.9200);">37.2</span>
<span class="t" style="left:4.60px;top:65.80px;font-size:10px;line-height:14px;color:#555;transform:scaleX(0.9200);">37.1</span>
<span class="t" style="left:4.60px;top:86.80px;font-size:10px;line-height:14px;color:#555;transform:scaleX(0.9200);">37</span>
<span class="t" style="left:4.60px;top:107.80px;font-size:10px;line-height:14px;color:#555;transform:scaleX(0.9200);">36.9</span>
<span class="t" style="left:4.60px;top:128.80px;font-size:10px;line-height:14px;color:#555;transform:scaleX(0.9200);">36.8</span>
<span class="t" style="left:4.60px;top:149.80px;font-size:10px;line-height:14px;color:#555;transform:scaleX(0.9200);">36.7</span>
<span class="t" style="left:4.60px;top:170.80px;font-size:10px;line-height:14px;color:#555;transform:scaleX(0.9200);">36.6</span>
<span class="t" style="left:4.60px;top:191.80px;font-size:10px;line-height:14px;color:#555;transform:scaleX(0.9200);">36.5</span>
<span class="t" style="left:4.60px;top:212.80px;font-size:10px;line-height:14px;color:#555;transform:scaleX(0.9200);">36.4</span>
<span class="t" style="left:4.60px;top:233.80px;font-size:10px;line-height:14px;color:#555;transform:scaleX(0.9200);">36.3</span>
<span class="t" style="left:4.60px;top:254.80px;font-size:10px;line-height:14px;color:#555;transform:scaleX(0.9200);">36.2</span>
<span class="t" style="left:4.60px;top:275.80px;font-size:10px;line-height:14px;color:#555;transform:scaleX(0.9200);">36.1</span>
<span class="t" style="left:4.60px;top:296.80px;font-size:10px;line-height:14px;color:#555;transform:scaleX(0.9200);">36</span>
<span class="t" style="left:54.50px;top:8.50px;font-size:10px;line-height:14px;color:#555;transform:scaleX(0.9433);">Средняя t° 1 фаза</span>
<span class="t" style="left:138.50px;top:7.50px;font-size:12px;line-height:16px;color:#555;transform:scaleX(0.9165);">36.4 °C</span>
<span class="t" style="left:342.60px;top:8.50px;font-size:10px;line-height:14px;color:#555;transform:scaleX(0.9265);">2 фаза</span>
<span class="t" style="left:376.80px;top:7.50px;font-size:12px;line-height:16px;color:#555;transform:scaleX(0.9165);">36.8 °C</span>
<span class="t" style="left:432.70px;top:8.50px;font-size:10px;line-height:14px;color:#555;transform:scaleX(0.9477);">Разница t°</span>
<span class="t" style="left:481.80px;top:7.50px;font-size:12px;line-height:16px;color:#555;transform:scaleX(0.9140);">0.4 °C</span>
<span class="t" style="left:335.70px;top:32.80px;font-size:10px;line-height:14px;color:#555;transform:scaleX(0.9530);">01</span>
<span class="t" style="left:354.70px;top:32.80px;font-size:10px;line-height:14px;color:#555;transform:scaleX(0.9530);">02</span>
<span class="t" style="left:373.70px;top:32.80px;font-size:10px;line-height:14px;color:#555;transform:scaleX(0.9530);">03</span>
<span class="t" style="left:392.70px;top:32.80px;font-size:10px;line-height:14px;color:#555;transform:scaleX(0.9530);">04</span>
<span class="t" style="left:411.70px;top:32.80px;font-size:10px;line-height:14px;color:#555;transform:scaleX(0.9530);">05</span>
<span class="t" style="left:430.70px;top:32.80px;font-size:10px;line-height:14px;color:#555;transform:scaleX(0.9530);">06</span>
<span class="t" style="left:449.70px;top:32.80px;font-size:10px;line-height:14px;color:#555;transform:scaleX(0.9530);">07</span>
<span class="t" style="left:468.70px;top:32.80px;font-size:10px;line-height:14px;color:#555;transform:scaleX(0.9530);">08</span>
<span class="t" style="left:487.70px;top:32.80px;font-size:10px;line-height:14px;color:#555;transform:scaleX(0.9530);">09</span>
<span class="t" style="left:506.70px;top:32.80px;font-size:10px;line-height:14px;color:#555;transform:scaleX(0.9530);">10</span>
<span class="t" style="left:525.70px;top:32.80px;font-size:10px;line-height:14px;color:#555;transform:scaleX(1.0211);">11</span>
<span class="t" style="left:544.70px;top:32.80px;font-size:10px;line-height:14px;color:#555;transform:scaleX(0.9530);">12</span>
<span class="t" style="left:563.70px;top:32.80px;font-size:10px;line-height:14px;color:#555;transform:scaleX(0.9530);">13</span>
<span class="t" style="left:582.70px;top:32.80px;font-size:10px;line-height:14px;color:#555;transform:scaleX(0.9530);">14</span>
<span class="t" style="left:601.70px;top:32.80px;font-size:10px;line-height:14px;color:#555;transform:scaleX(0.9530);">15</span>
<span class="t" style="left:322.4px;top:61.2px;font-size:10px;line-height:14px;color:#585858;transform:translate(-50%,-50%) rotate(-90deg) scaleX(0.9511);transform-origin:center;">ОВУЛЯЦИЯ</span>
<span class="t" style="left:32.00px;top:306.60px;font-size:10px;line-height:14px;color:#555;transform:scaleX(0.8990);">01</span>
<span class="t" style="left:51.00px;top:306.60px;font-size:10px;line-height:14px;color:#555;transform:scaleX(0.8990);">02</span>
<span class="t" style="left:70.00px;top:306.60px;font-size:10px;line-height:14px;color:#555;transform:scaleX(0.8990);">03</span>
<span class="t" style="left:89.00px;top:306.60px;font-size:10px;line-height:14px;color:#555;transform:scaleX(0.8990);">04</span>
<span class="t" style="left:108.00px;top:306.60px;font-size:10px;line-height:14px;color:#555;transform:scaleX(0.8990);">05</span>
<span class="t" style="left:127.00px;top:306.60px;font-size:10px;line-height:14px;color:#555;transform:scaleX(0.8990);">06</span>
<span class="t" style="left:146.00px;top:306.60px;font-size:10px;line-height:14px;color:#555;transform:scaleX(0.8990);">07</span>
<span class="t" style="left:165.00px;top:306.60px;font-size:10px;line-height:14px;color:#555;transform:scaleX(0.8990);">08</span>
<span class="t" style="left:184.00px;top:306.60px;font-size:10px;line-height:14px;color:#555;transform:scaleX(0.8990);">09</span>
<span class="t" style="left:203.00px;top:306.60px;font-size:10px;line-height:14px;color:#555;transform:scaleX(0.8990);">10</span>
<span class="t" style="left:222.00px;top:306.60px;font-size:10px;line-height:14px;color:#555;transform:scaleX(0.9633);">11</span>
<span class="t" style="left:241.00px;top:306.60px;font-size:10px;line-height:14px;color:#555;transform:scaleX(0.8990);">12</span>
<span class="t" style="left:260.00px;top:306.60px;font-size:10px;line-height:14px;color:#555;transform:scaleX(0.8990);">13</span>
<span class="t" style="left:279.00px;top:306.60px;font-size:10px;line-height:14px;color:#555;transform:scaleX(0.8990);">14</span>
<span class="t" style="left:298.00px;top:306.60px;font-size:10px;line-height:14px;color:#555;transform:scaleX(0.8990);">15</span>
<span class="t" style="left:317.00px;top:306.60px;font-size:10px;line-height:14px;color:#555;transform:scaleX(0.8990);">16</span>
<span class="t" style="left:336.00px;top:306.60px;font-size:10px;line-height:14px;color:#555;transform:scaleX(0.8990);">17</span>
<span class="t" style="left:355.00px;top:306.60px;font-size:10px;line-height:14px;color:#555;transform:scaleX(0.8990);">18</span>
<span class="t" style="left:374.00px;top:306.60px;font-size:10px;line-height:14px;color:#555;transform:scaleX(0.8990);">19</span>
<span class="t" style="left:392.00px;top:305.00px;font-size:12px;line-height:16px;color:#555;transform:scaleX(0.8990);">20</span>
<span class="t" style="left:412.00px;top:306.60px;font-size:10px;line-height:14px;color:#555;transform:scaleX(0.8990);">21</span>
<span class="t" style="left:431.00px;top:306.60px;font-size:10px;line-height:14px;color:#555;transform:scaleX(0.8990);">22</span>
<span class="t" style="left:450.00px;top:306.60px;font-size:10px;line-height:14px;color:#555;transform:scaleX(0.8990);">23</span>
<span class="t" style="left:469.00px;top:306.60px;font-size:10px;line-height:14px;color:#555;transform:scaleX(0.8990);">24</span>
<span class="t" style="left:488.00px;top:306.60px;font-size:10px;line-height:14px;color:#555;transform:scaleX(0.8990);">25</span>
<span class="t" style="left:507.00px;top:306.60px;font-size:10px;line-height:14px;color:#555;transform:scaleX(0.8990);">26</span>
<span class="t" style="left:526.00px;top:306.60px;font-size:10px;line-height:14px;color:#555;transform:scaleX(0.8990);">27</span>
<span class="t" style="left:545.00px;top:306.60px;font-size:10px;line-height:14px;color:#555;transform:scaleX(0.8990);">28</span>
<span class="t" style="left:564.00px;top:306.60px;font-size:10px;line-height:14px;color:#555;transform:scaleX(0.8990);">29</span>
<span class="t" style="left:583.00px;top:306.60px;font-size:10px;line-height:14px;color:#555;transform:scaleX(0.8990);">30</span>
<span class="t" style="left:602.00px;top:306.60px;font-size:10px;line-height:14px;color:#555;transform:scaleX(0.8990);">31</span>
<span class="t" style="left:32.00px;top:431.00px;font-size:10px;line-height:14px;color:#555;transform:scaleX(0.8990);">10</span>
<span class="t" style="left:51.00px;top:431.00px;font-size:10px;line-height:14px;color:#555;transform:scaleX(0.9633);">11</span>
<span class="t" style="left:70.00px;top:431.00px;font-size:10px;line-height:14px;color:#555;transform:scaleX(0.8990);">12</span>
<span class="t" style="left:89.00px;top:431.00px;font-size:10px;line-height:14px;color:#555;transform:scaleX(0.8990);">13</span>
<span class="t" style="left:108.00px;top:431.00px;font-size:10px;line-height:14px;color:#ea2a60;transform:scaleX(0.8990);">14</span>
<span class="t" style="left:127.00px;top:431.00px;font-size:10px;line-height:14px;color:#ea2a60;transform:scaleX(0.8990);">15</span>
<span class="t" style="left:146.00px;top:431.00px;font-size:10px;line-height:14px;color:#555;transform:scaleX(0.8990);">16</span>
<span class="t" style="left:165.00px;top:431.00px;font-size:10px;line-height:14px;color:#555;transform:scaleX(0.8990);">17</span>
<span class="t" style="left:184.00px;top:431.00px;font-size:10px;line-height:14px;color:#555;transform:scaleX(0.8990);">18</span>
<span class="t" style="left:203.00px;top:431.00px;font-size:10px;line-height:14px;color:#555;transform:scaleX(0.8990);">19</span>
<span class="t" style="left:222.00px;top:431.00px;font-size:10px;line-height:14px;color:#555;transform:scaleX(0.8990);">20</span>
<span class="t" style="left:241.00px;top:431.00px;font-size:10px;line-height:14px;color:#ea2a60;transform:scaleX(0.8990);">21</span>
<span class="t" style="left:260.00px;top:431.00px;font-size:10px;line-height:14px;color:#ea2a60;transform:scaleX(0.8990);">22</span>
<span class="t" style="left:279.00px;top:431.00px;font-size:10px;line-height:14px;color:#555;transform:scaleX(0.8990);">23</span>
<span class="t" style="left:298.00px;top:431.00px;font-size:10px;line-height:14px;color:#555;transform:scaleX(0.8990);">24</span>
<span class="t" style="left:317.00px;top:431.00px;font-size:10px;line-height:14px;color:#555;transform:scaleX(0.8990);">25</span>
<span class="t" style="left:336.00px;top:431.00px;font-size:10px;line-height:14px;color:#555;transform:scaleX(0.8990);">26</span>
<span class="t" style="left:355.00px;top:431.00px;font-size:10px;line-height:14px;color:#555;transform:scaleX(0.8990);">27</span>
<span class="t" style="left:374.00px;top:431.00px;font-size:10px;line-height:14px;color:#ea2a60;transform:scaleX(0.8990);">28</span>
<span class="t" style="left:392.00px;top:428.00px;font-size:12px;line-height:16px;color:#555;transform:scaleX(0.8990);">29</span>
<span class="t" style="left:412.00px;top:431.00px;font-size:10px;line-height:14px;color:#555;transform:scaleX(0.8990);">30</span>
<span class="t" style="left:431.00px;top:431.00px;font-size:10px;line-height:14px;color:#555;transform:scaleX(0.8990);">01</span>
<span class="t" style="left:450.00px;top:431.00px;font-size:10px;line-height:14px;color:#555;transform:scaleX(0.8990);">02</span>
<span class="t" style="left:469.00px;top:431.00px;font-size:10px;line-height:14px;color:#555;transform:scaleX(0.8990);">03</span>
<span class="t" style="left:488.00px;top:431.00px;font-size:10px;line-height:14px;color:#555;transform:scaleX(0.8990);">04</span>
<span class="t" style="left:507.00px;top:431.00px;font-size:10px;line-height:14px;color:#ea2a60;transform:scaleX(0.8990);">05</span>
<span class="t" style="left:526.00px;top:431.00px;font-size:10px;line-height:14px;color:#ea2a60;transform:scaleX(0.8990);">06</span>
<span class="t" style="left:545.00px;top:431.00px;font-size:10px;line-height:14px;color:#555;transform:scaleX(0.8990);">07</span>
<span class="t" style="left:564.00px;top:431.00px;font-size:10px;line-height:14px;color:#555;transform:scaleX(0.8990);">08</span>
<span class="t" style="left:583.00px;top:431.00px;font-size:10px;line-height:14px;color:#555;transform:scaleX(0.8990);">09</span>
<span class="t" style="left:602.00px;top:431.00px;font-size:10px;line-height:14px;color:#555;transform:scaleX(0.8990);">10</span>
<span class="t" style="left:27.60px;top:446.20px;font-size:11px;line-height:15px;color:#555;transform:scaleX(0.9727);">Июнь</span>
<span class="t" style="left:430.80px;top:446.20px;font-size:11px;line-height:15px;color:#555;transform:scaleX(0.9692);">Июль</span>
<span class="t" style="left:31.50px;top:478.00px;font-size:12px;line-height:16px;color:#1c1c1c;font-weight:bold;transform:scaleX(0.8717);">Менструация</span>
<span class="t" style="left:186.00px;top:478.00px;font-size:12px;line-height:16px;color:#1c1c1c;font-weight:bold;transform:scaleX(0.8463);">Тест на овуляцию</span>
<span class="t" style="left:315.50px;top:478.00px;font-size:12px;line-height:16px;color:#1c1c1c;font-weight:bold;transform:scaleX(0.8618);">Тест на беременность</span>
<span class="t" style="left:471.50px;top:478.00px;font-size:12px;line-height:16px;color:#1c1c1c;font-weight:bold;transform:scaleX(0.8764);">Цервикальная жидкость</span>
<span class="t" style="left:51.20px;top:496.65px;font-size:12.5px;line-height:16.5px;color:#2c2c2c;transform:scaleX(0.8112);">Менструация</span>
<span class="t" style="left:51.20px;top:517.75px;font-size:12.5px;line-height:16.5px;color:#2c2c2c;transform:scaleX(0.8109);">Небольшие выделения</span>
<span class="t" style="left:205.30px;top:497.05px;font-size:12.5px;line-height:16.5px;color:#2c2c2c;transform:scaleX(0.8155);">Положительный</span>
<span class="t" style="left:205.30px;top:518.15px;font-size:12.5px;line-height:16.5px;color:#2c2c2c;transform:scaleX(0.8053);">Отрицательный</span>
<span class="t" style="left:335.00px;top:497.05px;font-size:12.5px;line-height:16.5px;color:#2c2c2c;transform:scaleX(0.8155);">Положительный</span>
<span class="t" style="left:335.00px;top:518.15px;font-size:12.5px;line-height:16.5px;color:#2c2c2c;transform:scaleX(0.8053);">Отрицательный</span>
<span class="t" style="left:335.00px;top:538.75px;font-size:12.5px;line-height:16.5px;color:#2c2c2c;transform:scaleX(0.8079);">Слабоположительный</span>
<span class="t" style="left:492.50px;top:499.75px;font-size:12.5px;line-height:16.5px;color:#2c2c2c;transform:scaleX(0.7763);">Сухо</span>
<span class="t" style="left:492.50px;top:520.25px;font-size:12.5px;line-height:16.5px;color:#2c2c2c;transform:scaleX(0.8129);">Клейкая</span>
<span class="t" style="left:492.50px;top:540.25px;font-size:12.5px;line-height:16.5px;color:#2c2c2c;transform:scaleX(0.8267);">Кремообразная</span>
<span class="t" style="left:492.50px;top:560.25px;font-size:12.5px;line-height:16.5px;color:#2c2c2c;transform:scaleX(0.7983);">Водянистая</span>
<span class="t" style="left:492.50px;top:580.25px;font-size:12.5px;line-height:16.5px;color:#2c2c2c;transform:scaleX(0.8168);">Яичный белок</span>
<span class="t" style="left:51.20px;top:579.75px;font-size:12.5px;line-height:16.5px;color:#2c2c2c;transform:scaleX(0.8250);">Половой акт</span>
<span class="t" style="left:151.00px;top:579.75px;font-size:12.5px;line-height:16.5px;color:#2c2c2c;transform:scaleX(0.8153);">Прием лекарств</span>
<span class="t" style="left:271.00px;top:579.75px;font-size:12.5px;line-height:16.5px;color:#2c2c2c;transform:scaleX(0.8318);">Лунный календарь</span>
</body></html>
